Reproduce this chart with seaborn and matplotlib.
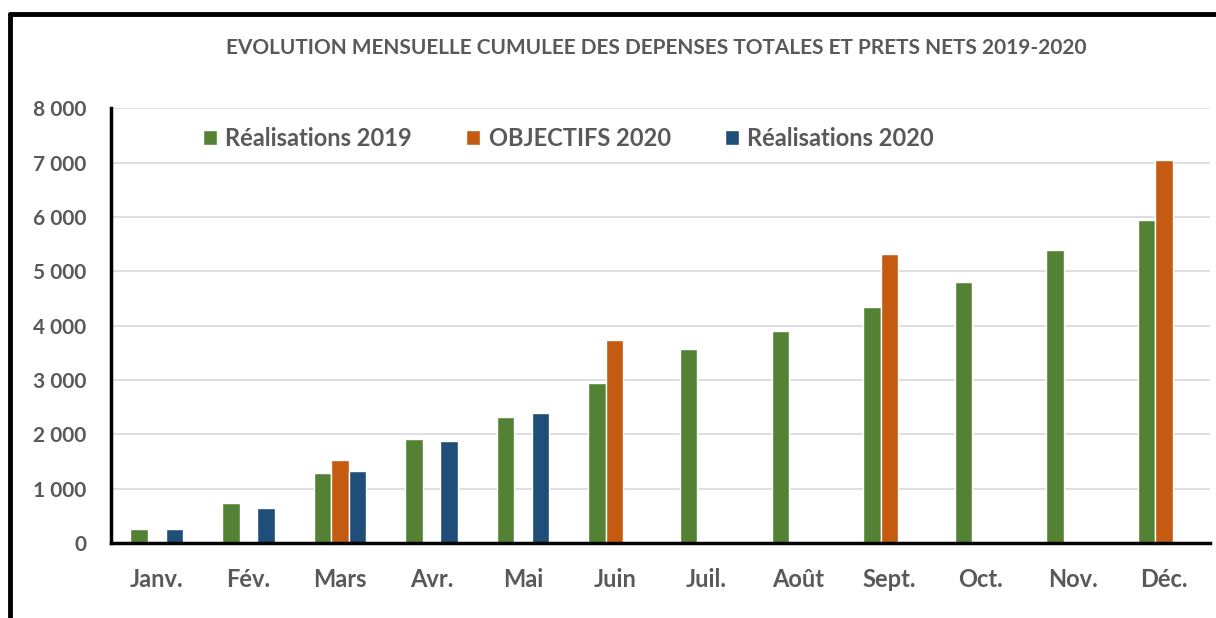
import pandas as pd
import numpy as np
import matplotlib
matplotlib.use("Agg")
import matplotlib.pyplot as plt
from matplotlib.lines import Line2D
from matplotlib.patches import Patch
import seaborn as sns

months = ["Janv.", "Fév.", "Mars", "Avr.", "Mai", "Juin",
          "Juil.", "Août", "Sept.", "Oct.", "Nov.", "Déc."]
series = ["Réalisations 2019", "OBJECTIFS 2020", "Réalisations 2020"]
real_2019 = [250, 740, 1290, 1910, 2320, 2940, 3570, 3900, 4340, 4800, 5390, 5940]
obj_2020 = [np.nan, np.nan, 1530, np.nan, np.nan, 3730,
            np.nan, np.nan, 5320, np.nan, np.nan, 7045]
real_2020 = [250, 640, 1320, 1875, 2390, np.nan,
             np.nan, np.nan, np.nan, np.nan, np.nan, np.nan]
colors = ["#548235", "#C55A11", "#1F4E79"]
text_col = "#595959"

df = pd.DataFrame({
    "mois": months * 3,
    "serie": [series[0]] * 12 + [series[1]] * 12 + [series[2]] * 12,
    "valeur": real_2019 + obj_2020 + real_2020,
})

sns.set_style("white")
plt.rcParams["font.family"] = ["Lato", "DejaVu Sans"]

fig = plt.figure(figsize=(12.16, 6.18), dpi=100)
ax = fig.add_axes([0.0913, 0.1214, 0.9037, 0.7036])

sns.barplot(data=df, x="mois", y="valeur", hue="serie", order=months,
            hue_order=series, palette=colors, width=0.575, saturation=1,
            errorbar=None, legend=False, ax=ax)

ax.set_ylim(0, 8000)
ax.set_xlim(-0.5, 11.5)
ax.set_yticks(range(0, 8001, 1000))
ax.set_yticklabels([f"{v:,}".replace(",", " ") for v in range(0, 8001, 1000)])
ax.yaxis.grid(True, color="#D9D9D9", linewidth=1.2)
ax.set_axisbelow(True)
ax.set_xlabel("")
ax.set_ylabel("")
for s in ["top", "right"]:
    ax.spines[s].set_visible(False)
for s in ["left", "bottom"]:
    ax.spines[s].set_color("black")
    ax.spines[s].set_linewidth(2.5)
ax.tick_params(axis="both", length=0, labelcolor=text_col)
ax.tick_params(axis="y", pad=18, labelsize=15)
ax.tick_params(axis="x", pad=18, labelsize=17)
for lab in ax.get_xticklabels() + ax.get_yticklabels():
    lab.set_fontweight("bold")

fig.text(0.54, 0.922, "EVOLUTION MENSUELLE CUMULEE DES DEPENSES TOTALES ET PRETS NETS 2019-2020",
         ha="center", va="center", fontsize=15, fontweight="bold", color=text_col)

handles = [Patch(facecolor=c, label=s) for c, s in zip(colors, series)]
ax.legend(handles=handles, loc="center left", bbox_to_anchor=(0.064, 0.93),
          ncol=3, frameon=False, handlelength=0.6, handleheight=0.6,
          handletextpad=0.35, columnspacing=2.3,
          prop={"size": 17, "weight": "bold"}, labelcolor=text_col)

# cadre
fig.add_artist(Line2D([0.0082, 0.0082], [0, 0.978], color="black", lw=3.5))
fig.add_artist(Line2D([0.0082, 1], [0.978, 0.978], color="black", lw=3.5))

fig.savefig("out.png", dpi=100)
